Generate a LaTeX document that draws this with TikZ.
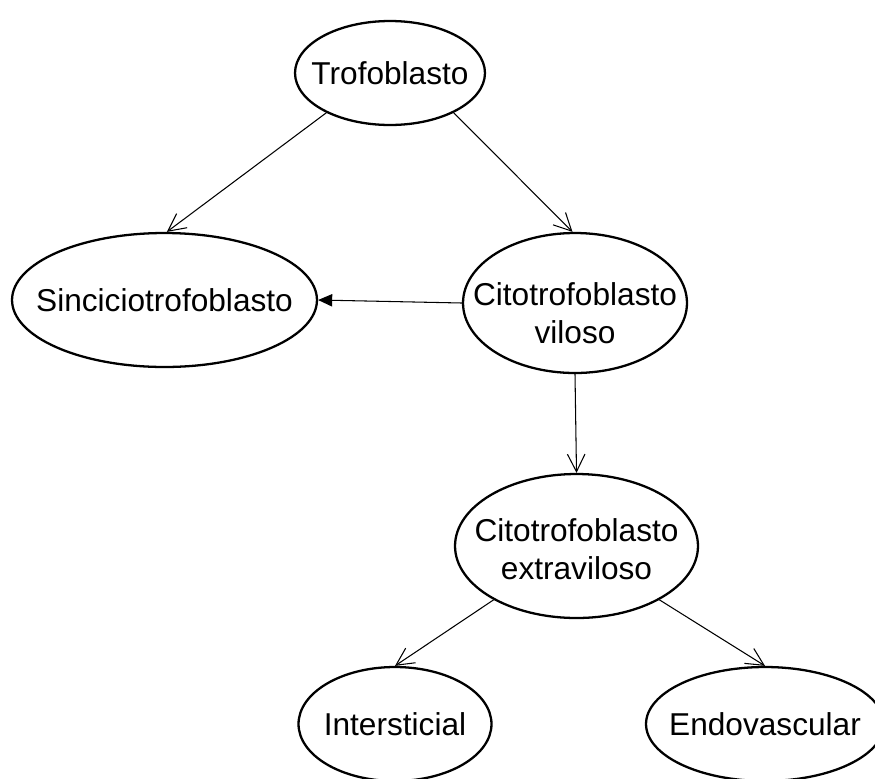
\documentclass[tikz,border=0pt]{standalone}
\usepackage{fontspec}
\setmainfont{Liberation Sans}
\usetikzlibrary{arrows.meta}
\usetikzlibrary{shapes.geometric}

\newcommand{\cbox}[1]{\makebox[0pt]{#1}}
\newcommand{\twolines}[3]{\raisebox{#3}[0pt][0pt]{\begin{tabular}{@{}c@{}}\cbox{#1}\\\cbox{#2}\end{tabular}}}

\begin{document}
\begin{tikzpicture}[x=0.02cm, y=-0.02cm,
    cell/.style={ellipse, draw, line width=1.3pt, inner sep=0pt, font=\fontsize{18}{22}\selectfont},
    link/.style={line width=0.6pt, -{Straight Barb[length=10pt, width=10pt]}}]
    \useasboundingbox (0,0) rectangle (875,778);

    \node[cell, minimum width=3.8cm, minimum height=2.08cm] (tro) at (390,73) {\cbox{Trofoblasto}};
    \node[cell, minimum width=6.1cm, minimum height=2.68cm] (sinc) at (164.5,300) {\cbox{Sinciciotrofoblasto}};
    \node[cell, minimum width=4.48cm, minimum height=2.8cm] (vil) at (575,303) {\twolines{Citotrofoblasto}{viloso}{-0.43cm}};
    \node[cell, minimum width=4.86cm, minimum height=2.88cm] (extra) at (576.5,546) {\twolines{Citotrofoblasto}{extraviloso}{-0.29cm}};
    \node[cell, minimum width=3.86cm, minimum height=2.28cm] (inter) at (395,724) {\cbox{Intersticial}};
    \node[cell, minimum width=4.76cm, minimum height=2.28cm] (endo) at (765,724) {\cbox{Endovascular}};

    \draw[link] (tro.212) -- (sinc.88);
    \draw[link] (tro.328) -- (vil.92);
    \draw[line width=0.6pt, -{Triangle[length=8pt, width=7pt]}] (vil.west) -- (sinc.east);
    \draw[link] (vil.south) -- (extra.north);
    \draw[link] (extra.213) -- (inter.north);
    \draw[link] (extra.327) -- (endo.north);
\end{tikzpicture}
\end{document}
